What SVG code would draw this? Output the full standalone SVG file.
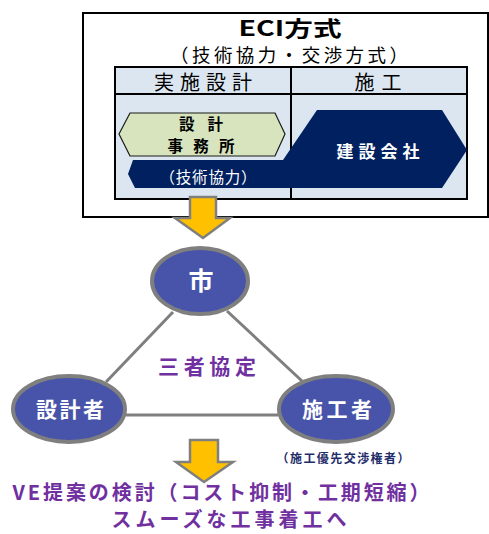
<svg xmlns="http://www.w3.org/2000/svg" width="489" height="534" viewBox="0 0 489 534">
<style>
text{font-family:"Noto Sans CJK JP","Noto Sans",sans-serif;}
.b{font-weight:bold;}
.ell{fill:#4754a9;stroke:#7f7f7f;stroke-width:4;}
.conn{stroke:#7f7f7f;stroke-width:3;fill:none;}
.arrow{fill:#ffc000;stroke:#7f7f7f;stroke-width:2.5;}
.cell{fill:#dce6f1;stroke:#000;stroke-width:2;}
.wt{fill:#fff;}
.pu{fill:#7030a0;font-weight:bold;}
</style>
<rect width="489" height="534" fill="#fff"/>
<g id="eci-box">
<rect x="83" y="13" width="405" height="204" fill="#fff" stroke="#000" stroke-width="2"/>
<text x="290" y="36" font-size="21" class="b" text-anchor="middle" textLength="103" lengthAdjust="spacingAndGlyphs">ECI方式</text>
<text x="289" y="62" font-size="18.5" text-anchor="middle" textLength="238" lengthAdjust="spacing">（技術協力・交渉方式）</text>
</g>
<g id="table">
<rect class="cell" x="115" y="67" width="176" height="27"/>
<rect class="cell" x="291" y="67" width="176" height="27"/>
<rect class="cell" x="115" y="94" width="176" height="105"/>
<rect class="cell" x="291" y="94" width="176" height="105"/>
<text x="203" y="90" font-size="20" text-anchor="middle" textLength="98" lengthAdjust="spacing">実施設計</text>
<text x="378" y="90" font-size="20" text-anchor="middle" textLength="47" lengthAdjust="spacing">施工</text>
</g>
<g id="design-office">
<polygon points="119,134 130,113 275,113 285,134 275,156 130,156" fill="#d7e4bd" stroke="#1a1a1a" stroke-width="1.2"/>
<text x="201" y="130" font-size="15.5" class="b" text-anchor="middle" textLength="44" lengthAdjust="spacing">設計</text>
<text x="201" y="152" font-size="15.5" class="b" text-anchor="middle" textLength="67" lengthAdjust="spacing">事務所</text>
</g>
<g id="contractor">
<polygon points="317,110 442,110 467,150 442,188 135,188 128,174 133,160 283,160" fill="#002060"/>
<text x="378" y="158" font-size="17" class="b wt" text-anchor="middle" textLength="83" lengthAdjust="spacing">建設会社</text>
<text x="208" y="183" font-size="15.5" class="wt" text-anchor="middle" textLength="97" lengthAdjust="spacing">（技術協力）</text>
</g>
<g id="connectors">
<line class="conn" x1="173" y1="312" x2="106" y2="382"/>
<line class="conn" x1="227" y1="311" x2="302" y2="381"/>
<line class="conn" x1="126" y1="415" x2="278" y2="415"/>
<polygon class="arrow" points="190,197 216,197 216,218 230,218 203,238 175,218 190,218"/>
<polygon class="arrow" points="190,440 218,440 218,462 233,462 204,482 176,462 190,462"/>
</g>
<g id="city">
<ellipse class="ell" cx="200" cy="281" rx="48" ry="33"/>
<text x="201" y="290" font-size="25" class="b wt" text-anchor="middle">市</text>
</g>
<g id="designer">
<ellipse class="ell" cx="69" cy="409" rx="56" ry="33"/>
<text x="70" y="417" font-size="21" class="b wt" text-anchor="middle" textLength="68" lengthAdjust="spacing">設計者</text>
</g>
<g id="builder">
<ellipse class="ell" cx="336" cy="409" rx="57" ry="33"/>
<text x="337" y="417" font-size="21" class="b wt" text-anchor="middle" textLength="70" lengthAdjust="spacing">施工者</text>
<text x="343" y="463" font-size="12" class="b" fill="#1f2d6b" text-anchor="middle" textLength="133" lengthAdjust="spacing">（施工優先交渉権者）</text>
</g>
<g id="agreement">
<text x="207" y="374" font-size="21" class="pu" text-anchor="middle" textLength="98" lengthAdjust="spacing">三者協定</text>
</g>
<g id="result">
<text x="221" y="500" font-size="20" class="pu" text-anchor="middle" textLength="417" lengthAdjust="spacing">VE提案の検討（コスト抑制・工期短縮）</text>
<text x="229" y="527" font-size="20" class="pu" text-anchor="middle" textLength="235" lengthAdjust="spacing">スムーズな工事着工へ</text>
</g>
</svg>
